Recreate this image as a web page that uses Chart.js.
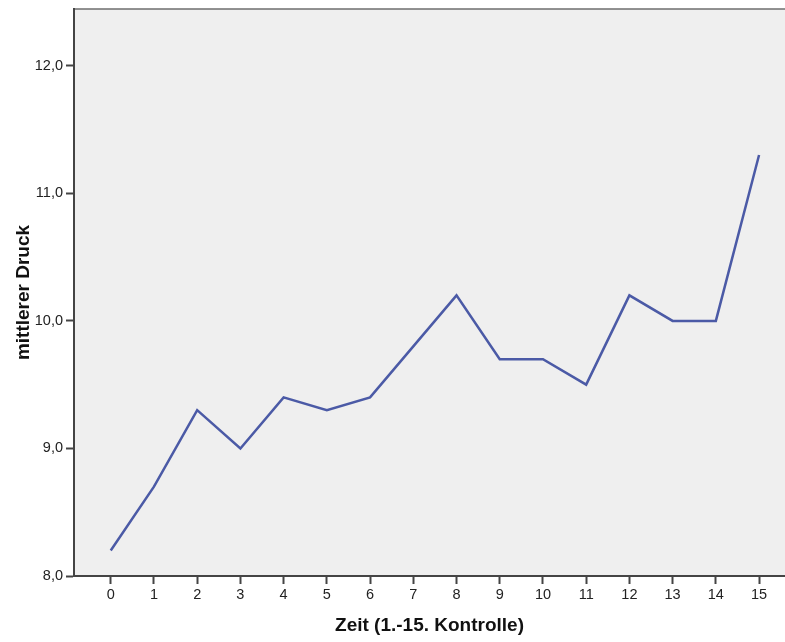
<!DOCTYPE html>
<html>
<head>
<meta charset="utf-8">
<script src="https://cdn.jsdelivr.net/npm/chart.js@4/dist/chart.umd.min.js"></script>
<style>
  html, body { margin: 0; padding: 0; background: #fff; }
  #wrap { width: 785px; height: 642px; }
</style>
</head>
<body>
<div id="wrap"><canvas id="myChart" width="785" height="642"></canvas></div>
<script>
// data
const zeit = [0, 1, 2, 3, 4, 5, 6, 7, 8, 9, 10, 11, 12, 13, 14, 15]
const druck = [8.2, 8.7, 9.3, 9.0, 9.4, 9.3, 9.4, 9.8, 10.2, 9.7, 9.7, 9.5, 10.2, 10.0, 10.0, 11.3]
const yTicks = [8, 9, 10, 11, 12]

const fontFam = "'Liberation Sans', Arial, sans-serif"

// grey plot background + top border
const plotBg = {
    id: 'plotBg',
    beforeDraw(chart) {
        const { ctx, chartArea: a } = chart
        ctx.save()
        ctx.fillStyle = '#efefef'
        ctx.fillRect(a.left, a.top, a.right - a.left, a.bottom - a.top)
        ctx.strokeStyle = '#6e6e6e'
        ctx.lineWidth = 1.5
        ctx.beginPath()
        ctx.moveTo(a.left, a.top)
        ctx.lineTo(a.right, a.top)
        ctx.stroke()
        ctx.restore()
    }
}

const ctx = document.getElementById('myChart').getContext('2d')
const myChart = new Chart(ctx, {
    type: 'line',
    data: {
        datasets: [{
            data: zeit.map((z, i) => ({ x: z, y: druck[i] })),
            borderColor: '#4b5aa6',
            borderWidth: 2.5,
            pointRadius: 0,
            tension: 0,
            fill: false
        }]
    },
    options: {
        responsive: false,
        animation: false,
        layout: { padding: { top: 9, right: 0, left: 0, bottom: 0 } },
        plugins: {
            legend: { display: false },
            tooltip: { enabled: false }
        },
        scales: {
            x: {
                type: 'linear',
                min: -0.85,
                max: 15.6,
                afterBuildTicks: axis => { axis.ticks = zeit.map(v => ({ value: v })) },
                afterFit: axis => {
                    axis.height = 66
                    axis.paddingLeft = 0
                    axis.paddingRight = 0
                },
                grid: {
                    drawOnChartArea: false,
                    drawTicks: true,
                    tickLength: 8,
                    tickWidth: 2,
                    tickColor: '#444'
                },
                border: { color: '#444', width: 2 },
                ticks: {
                    color: '#222',
                    padding: 2,
                    maxRotation: 0,
                    font: { family: fontFam, size: 14.5 },
                    callback: v => String(v)
                },
                title: {
                    display: true,
                    text: 'Zeit (1.-15. Kontrolle)',
                    color: '#111',
                    font: { family: fontFam, size: 19, weight: 'bold' },
                    padding: { top: 0, bottom: 4.5 }
                }
            },
            y: {
                min: 8,
                max: 12.445,
                afterBuildTicks: axis => { axis.ticks = yTicks.map(v => ({ value: v })) },
                afterFit: axis => {
                    axis.width = 74
                    axis.paddingTop = 0
                    axis.paddingBottom = 0
                },
                grid: {
                    drawOnChartArea: false,
                    drawTicks: true,
                    tickLength: 8,
                    tickWidth: 2,
                    tickColor: '#444'
                },
                border: { color: '#444', width: 2 },
                ticks: {
                    color: '#222',
                    padding: 3,
                    font: { family: fontFam, size: 14.5 },
                    callback: v => v.toFixed(1).replace('.', ',')
                },
                title: {
                    display: true,
                    text: 'mittlerer Druck',
                    color: '#111',
                    font: { family: fontFam, size: 19, weight: 'bold' },
                    padding: { top: 12.5, bottom: 0 }
                }
            }
        }
    },
    plugins: [plotBg]
})
</script>
</body>
</html>
